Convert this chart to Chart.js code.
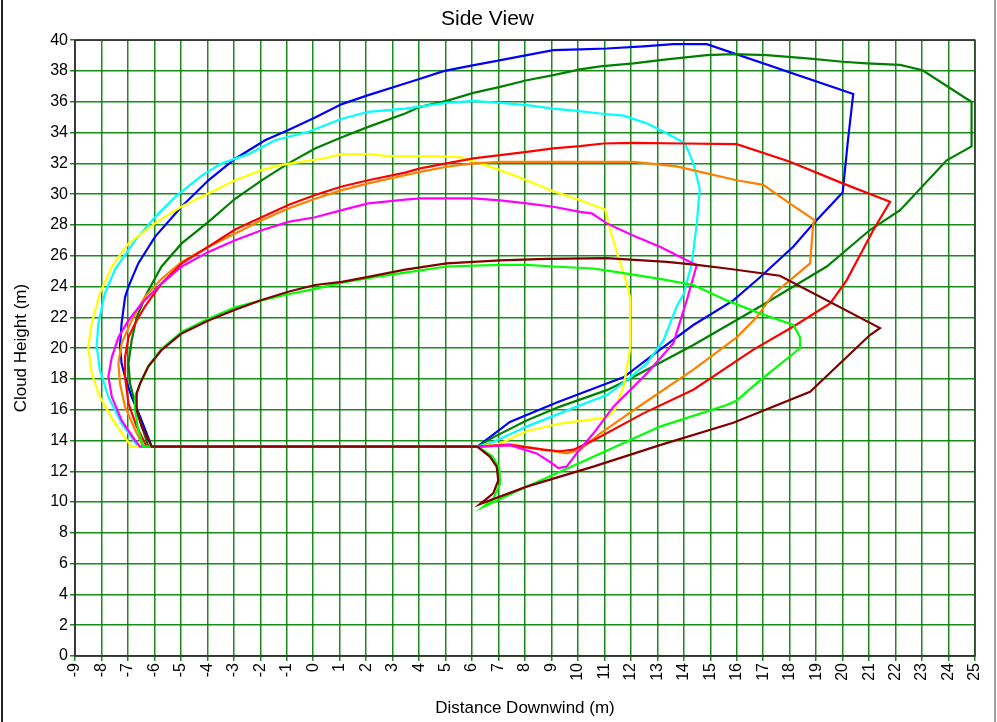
<!DOCTYPE html>
<html>
<head>
<meta charset="utf-8">
<title>Side View</title>
<script src="https://cdn.jsdelivr.net/npm/chart.js@4/dist/chart.umd.min.js"></script>
<style>
  body { margin: 0; background: #fff; }
  canvas { display: block; }
</style>
</head>
<body>
<canvas id="side-view" width="997" height="722"></canvas>
<script>
// axis settings
var xMin = -9, xMax = 25, xStep = 1;
var yMin = 0, yMax = 40, yStep = 2;

// each cloud outline (x = distance downwind, y = height)
var blueX = [6.2, -6.1, -6.54, -6.86, -7.11, -7.24, -7.3, -7.24, -7.11, -6.98, -6.61, -5.98, -4.97, -3.96, -2.95, -1.82, -0.94, 0.07, 1.08, 2.08, 3.47, 4.04, 4.92, 5.92, 6.93, 8.07, 9.07, 10.08, 11.09, 12.47, 13.6, 14.87, 20.4, 20.2, 20.0, 18.9, 18.14, 16.88, 15.87, 14.36, 13.1, 11.72, 11.09, 9.2, 7.43, 6.2];
var blueY = [13.6, 13.6, 15.54, 16.84, 18.14, 19.0, 20.1, 21.6, 23.3, 24.0, 25.5, 27.23, 29.2, 30.9, 32.3, 33.5, 34.16, 34.98, 35.85, 36.43, 37.19, 37.5, 37.99, 38.33, 38.66, 39.03, 39.35, 39.4, 39.46, 39.6, 39.74, 39.74, 36.5, 33.5, 30.1, 28.1, 26.6, 24.6, 23.1, 21.5, 19.9, 18.1, 17.7, 16.47, 15.2, 13.6];

var greenX = [6.2, -6.23, -6.67, -6.92, -6.98, -6.86, -6.67, -6.29, -5.73, -4.97, -3.96, -2.95, -1.95, -0.94, 0.07, 1.08, 2.08, 3.47, 4.04, 5.04, 6.05, 7.06, 8.07, 9.07, 10.08, 10.84, 12.1, 13.35, 14.87, 15.87, 17.13, 18.77, 20.0, 20.9, 22.17, 23.02, 24.68, 24.87, 24.87, 23.93, 22.17, 21.03, 19.4, 16.88, 14.36, 11.84, 11.09, 9.32, 8.06, 6.8, 6.2];
var greenY = [13.6, 13.6, 16.0, 17.7, 19.0, 20.5, 22.0, 23.55, 25.3, 26.8, 28.2, 29.7, 30.9, 32.0, 32.96, 33.7, 34.37, 35.24, 35.67, 36.06, 36.58, 36.97, 37.4, 37.73, 38.1, 38.3, 38.5, 38.75, 39.03, 39.1, 39.03, 38.8, 38.6, 38.5, 38.4, 38.05, 36.2, 36.0, 33.1, 32.2, 28.96, 27.67, 25.3, 22.7, 20.2, 17.9, 17.27, 16.2, 15.3, 14.2, 13.6];

var cyanX = [6.2, -6.61, -7.24, -7.74, -8.06, -8.18, -8.12, -7.87, -7.49, -6.73, -5.98, -5.22, -4.21, -3.46, -2.45, -1.44, -0.18, 1.08, 2.08, 3.47, 5.04, 6.05, 7.06, 8.07, 9.07, 9.95, 10.84, 11.72, 12.6, 13.36, 14.05, 14.36, 14.55, 14.6, 14.49, 14.3, 14.0, 13.73, 13.23, 12.6, 11.84, 11.09, 9.95, 8.06, 6.8, 6.2];
var cyanY = [13.6, 13.6, 15.1, 16.84, 18.57, 20.1, 21.6, 23.55, 25.1, 27.0, 28.5, 29.83, 31.2, 32.0, 32.6, 33.5, 34.05, 34.9, 35.35, 35.56, 35.93, 36.06, 35.93, 35.78, 35.56, 35.41, 35.24, 35.1, 34.6, 33.94, 33.3, 32.0, 30.7, 30.3, 28.1, 25.5, 23.55, 22.7, 20.5, 19.0, 17.9, 16.95, 16.2, 14.9, 13.9, 13.6];

var yellowX = [6.2, -6.86, -7.49, -8.06, -8.37, -8.5, -8.37, -8.06, -7.61, -6.98, -5.98, -4.97, -3.96, -2.95, -1.95, -1.19, -0.44, 0.32, 1.08, 2.08, 2.84, 4.54, 5.55, 6.3, 7.06, 8.07, 8.95, 10.08, 11.03, 11.21, 11.53, 11.84, 11.97, 11.97, 11.72, 11.4, 11.09, 9.32, 8.06, 7.06, 6.2];
var yellowY = [13.6, 13.6, 15.1, 16.84, 18.35, 20.1, 21.6, 23.55, 25.3, 26.8, 28.1, 29.2, 30.04, 30.9, 31.56, 31.9, 32.1, 32.3, 32.6, 32.6, 32.47, 32.47, 32.4, 32.0, 31.56, 30.9, 30.26, 29.6, 29.0, 27.7, 25.9, 24.2, 23.3, 19.9, 17.5, 16.0, 15.5, 15.1, 14.6, 13.8, 13.6];

var redX = [6.2, -6.29, -6.67, -6.98, -7.11, -7.11, -6.98, -6.73, -6.36, -5.73, -4.97, -3.96, -2.95, -1.95, -0.94, 0.07, 1.08, 2.08, 3.47, 4.04, 5.04, 6.05, 7.06, 8.07, 9.07, 10.08, 10.96, 12.1, 13.99, 16.0, 18.01, 20.0, 21.79, 21.16, 20.15, 19.53, 18.14, 16.63, 14.36, 12.47, 10.58, 9.83, 9.32, 8.69, 7.43, 6.2];
var redY = [13.6, 13.6, 14.9, 16.4, 18.14, 19.4, 20.7, 21.6, 22.7, 24.2, 25.5, 26.58, 27.7, 28.5, 29.3, 29.94, 30.5, 30.9, 31.4, 31.67, 32.0, 32.32, 32.53, 32.75, 32.97, 33.12, 33.29, 33.33, 33.29, 33.25, 32.1, 30.7, 29.5, 27.67, 24.4, 22.9, 21.4, 19.9, 17.3, 15.76, 14.0, 13.4, 13.3, 13.4, 13.7, 13.6];

var orangeX = [6.2, -6.42, -6.73, -7.11, -7.3, -7.36, -7.24, -6.86, -6.36, -5.73, -4.97, -3.96, -2.95, -1.95, -0.94, 0.07, 1.08, 2.08, 3.47, 4.04, 5.04, 6.05, 7.06, 9.07, 10.2, 12.1, 13.73, 14.62, 16.0, 17.0, 18.0, 18.95, 18.89, 18.77, 18.14, 17.38, 16.75, 16.0, 14.36, 12.47, 10.83, 10.08, 9.57, 8.69, 7.43, 6.2];
var orangeY = [13.6, 13.6, 14.7, 16.2, 17.7, 19.0, 20.3, 21.8, 23.33, 24.5, 25.6, 26.58, 27.45, 28.3, 29.07, 29.7, 30.26, 30.7, 31.23, 31.45, 31.78, 32.0, 32.1, 32.1, 32.1, 32.1, 31.8, 31.45, 30.9, 30.6, 29.4, 28.3, 28.1, 25.5, 24.6, 23.5, 22.0, 20.7, 18.6, 16.4, 14.45, 13.4, 13.16, 13.4, 13.76, 13.6];

var magentaX = [6.2, -6.54, -6.73, -7.24, -7.61, -7.74, -7.61, -7.36, -6.98, -6.48, -5.85, -4.97, -3.96, -2.95, -1.95, -0.94, 0.07, 1.08, 2.08, 3.47, 4.04, 5.04, 6.05, 7.06, 8.07, 9.07, 10.08, 10.52, 11.09, 12.1, 13.1, 14.24, 14.49, 14.11, 13.6, 12.6, 11.34, 10.58, 9.95, 9.57, 9.26, 8.95, 8.44, 7.43, 6.2];
var magentaY = [13.6, 13.6, 14.0, 15.3, 16.84, 18.14, 19.4, 20.7, 21.8, 22.9, 24.0, 25.3, 26.25, 27.0, 27.66, 28.2, 28.5, 28.96, 29.4, 29.65, 29.72, 29.72, 29.72, 29.6, 29.4, 29.18, 28.85, 28.75, 28.1, 27.3, 26.58, 25.6, 25.4, 23.1, 20.3, 18.35, 16.2, 14.45, 13.16, 12.3, 12.2, 12.6, 13.16, 13.7, 13.6];

var limeX = [6.2, -6.42, -6.61, -6.73, -6.73, -6.54, -6.23, -5.73, -4.97, -3.96, -2.95, -1.95, -0.94, 0.07, 1.08, 2.08, 3.47, 5.04, 7.06, 8.06, 9.07, 10.58, 11.6, 13.1, 14.36, 15.62, 16.88, 18.14, 18.39, 18.39, 18.14, 16.88, 16.0, 15.62, 13.1, 10.58, 8.06, 6.43, 6.8, 7.06, 7.03, 6.75, 6.2];
var limeY = [13.6, 13.6, 14.67, 15.98, 16.84, 17.7, 18.85, 19.95, 21.05, 21.9, 22.65, 23.1, 23.5, 23.85, 24.25, 24.55, 24.9, 25.3, 25.4, 25.4, 25.3, 25.17, 24.9, 24.5, 24.1, 23.1, 22.25, 21.5, 20.7, 20.0, 19.65, 17.9, 16.6, 16.3, 14.9, 12.94, 11.0, 9.7, 10.2, 11.2, 12.2, 13.0, 13.6];

var maroonX = [6.2, -6.1, -6.48, -6.67, -6.67, -6.54, -6.23, -5.73, -4.97, -3.96, -2.95, -1.95, -0.94, 0.07, 1.08, 2.08, 3.47, 5.04, 7.06, 8.82, 11.09, 13.36, 14.49, 15.62, 17.63, 21.41, 21.03, 18.77, 15.87, 13.1, 10.58, 8.06, 6.3, 6.8, 6.99, 6.93, 6.68, 6.2];
var maroonY = [13.6, 13.6, 14.9, 15.98, 17.06, 17.7, 18.8, 19.87, 20.95, 21.8, 22.5, 23.12, 23.66, 24.1, 24.3, 24.63, 25.1, 25.5, 25.7, 25.8, 25.85, 25.6, 25.4, 25.17, 24.7, 21.3, 20.85, 17.16, 15.15, 13.7, 12.3, 11.0, 9.87, 10.56, 11.4, 12.3, 12.94, 13.6];

// drawn in this order, the last one ends up on top
var seriesList = [
  { name: 'blue', xs: blueX, ys: blueY, color: '#0000ff' },
  { name: 'green', xs: greenX, ys: greenY, color: '#008000' },
  { name: 'cyan', xs: cyanX, ys: cyanY, color: '#00ffff' },
  { name: 'yellow', xs: yellowX, ys: yellowY, color: '#ffff00' },
  { name: 'orange', xs: orangeX, ys: orangeY, color: '#ff8000' },
  { name: 'red', xs: redX, ys: redY, color: '#ff0000' },
  { name: 'magenta', xs: magentaX, ys: magentaY, color: '#ff00ff' },
  { name: 'lime', xs: limeX, ys: limeY, color: '#00ff00' },
  { name: 'maroon', xs: maroonX, ys: maroonY, color: '#800000' }
];

function toPoints(xs, ys) {
  var pts = [];
  for (var i = 0; i < xs.length; i++) {
    pts.push({ x: xs[i], y: ys[i] });
  }
  return pts;
}

function buildDatasets() {
  var sets = [];
  for (var i = 0; i < seriesList.length; i++) {
    var s = seriesList[i];
    sets.push({
      label: s.name,
      data: toPoints(s.xs, s.ys),
      borderColor: s.color,
      backgroundColor: s.color,
      borderWidth: 2.2,
      pointRadius: 0,
      showLine: true,
      tension: 0,
      fill: false,
      order: seriesList.length - i // higher order is drawn first
    });
  }
  return sets;
}

// black box round the plot area plus the window edges
var framePlugin = {
  id: 'frame',
  afterDraw: function (chart) {
    var ctx = chart.ctx;
    var a = chart.chartArea;
    ctx.save();
    ctx.strokeStyle = '#333333';
    ctx.lineWidth = 1.5;
    ctx.strokeRect(a.left, a.top, a.right - a.left, a.bottom - a.top);
    ctx.fillStyle = '#222222';
    ctx.fillRect(1, 0, 2, chart.height);
    ctx.fillStyle = '#a0a0a0';
    ctx.fillRect(994, 0, 2, chart.height);
    ctx.restore();
  }
};

Chart.defaults.font.family = '"Liberation Sans", Arial, sans-serif';
Chart.defaults.color = '#000';

var gridColor = 'rgba(0, 128, 0, 0.9)';

new Chart(document.getElementById('side-view').getContext('2d'), {
  type: 'scatter',
  data: { datasets: buildDatasets() },
  options: {
    responsive: false,
    animation: false,
    layout: { padding: { left: 0, right: 22, top: 0, bottom: 0 } },
    plugins: {
      legend: { display: false },
      tooltip: { enabled: false },
      title: {
        display: true,
        text: 'Side View',
        font: { size: 21, weight: 'normal' },
        color: '#000',
        padding: { top: 7, bottom: 8 }
      }
    },
    scales: {
      x: {
        type: 'linear',
        min: xMin,
        max: xMax,
        afterFit: function (scale) { scale.height = 66; },
        ticks: {
          stepSize: xStep,
          autoSkip: false,
          minRotation: 90,
          maxRotation: 90,
          padding: 2,
          font: { size: 16 },
          color: '#000'
        },
        grid: { color: gridColor, lineWidth: 1.5, tickLength: 5 },
        border: { display: true, color: '#333333', width: 1.5 },
        title: {
          display: true,
          text: 'Distance Downwind (m)',
          font: { size: 17 },
          color: '#000',
          padding: { top: 3, bottom: 3 }
        }
      },
      y: {
        type: 'linear',
        min: yMin,
        max: yMax,
        afterFit: function (scale) { scale.width = 75; },
        ticks: {
          stepSize: yStep,
          padding: 2,
          font: { size: 16 },
          color: '#000'
        },
        grid: { color: gridColor, lineWidth: 1.5, tickLength: 5 },
        border: { display: true, color: '#333333', width: 1.5 },
        title: {
          display: true,
          text: 'Cloud Height (m)',
          font: { size: 17 },
          color: '#000',
          padding: { top: 11, bottom: 4 }
        }
      }
    }
  },
  plugins: [framePlugin]
});
</script>
</body>
</html>
